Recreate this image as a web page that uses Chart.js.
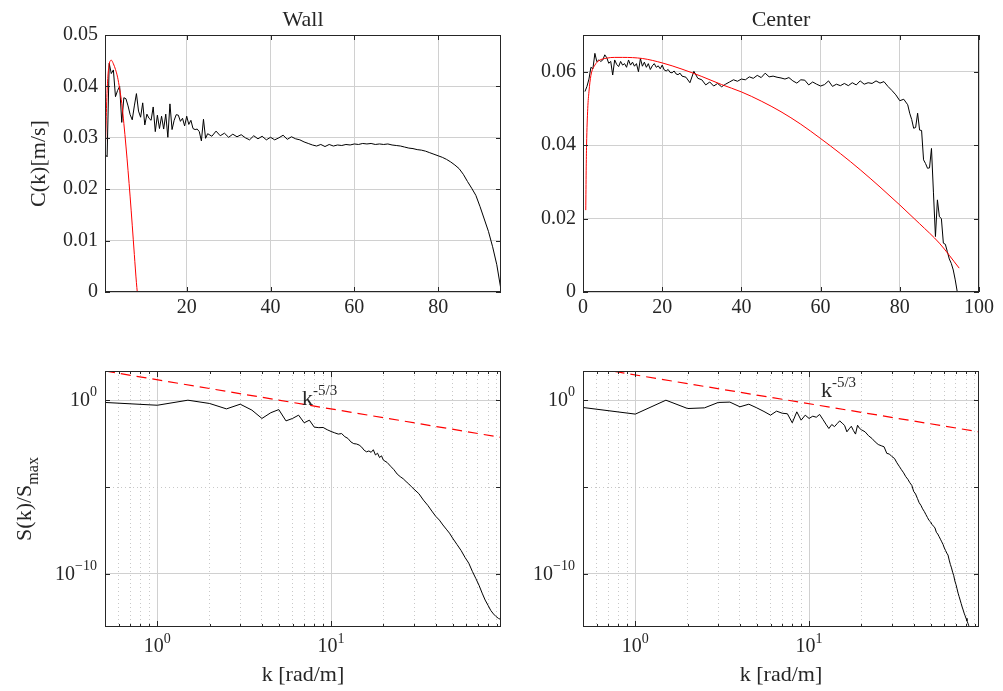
<!DOCTYPE html>
<html>
<head>
<meta charset="utf-8">
<script src="https://cdn.jsdelivr.net/npm/chart.js@4.4.1/dist/chart.umd.min.js"></script>
<style>
  body { margin: 0; background: #fff; }
  #wrap { position: relative; width: 1003px; height: 691px; }
  canvas { position: absolute; }
</style>
</head>
<body>
<div id="wrap">
  <canvas id="wallTop" width="540" height="340" style="left:0;top:0"></canvas>
  <canvas id="centerTop" width="523" height="340" style="left:480px;top:0"></canvas>
  <canvas id="wallSpec" width="540" height="346" style="left:0;top:345px"></canvas>
  <canvas id="centerSpec" width="523" height="346" style="left:480px;top:345px"></canvas>
</div>
<script>
// ---- top row: C(k) [m/s] against k ----
const kWallTop = [0.5, 1, 1.5, 2, 2.5, 3, 3.5, 4, 4.5, 5, 5.5, 6, 6.5, 7, 7.5, 8, 8.5, 9, 9.5, 10,
  10.5, 11, 11.5, 12, 12.5, 13, 13.5, 14, 14.5, 15, 15.5, 16, 16.5, 17, 17.5, 18, 18.5, 19, 19.5, 20,
  20.5, 21, 21.5, 22, 22.5, 23, 23.5, 24, 24.5, 25,
  26, 27, 28, 29, 30, 31, 32, 33, 34, 35, 36, 37, 38, 39, 40, 41, 42, 43, 44, 45,
  46, 47, 48, 49, 50, 51, 52, 53, 54, 55, 56, 57, 58, 59, 60, 61, 62, 63, 64, 65,
  66, 67, 68, 69, 70, 71, 72, 73, 74, 75, 76, 77, 78, 79, 80, 81, 82, 83, 84, 85,
  86, 87, 88, 89, 90, 91, 92, 93, 94, 95];
const cWall = [0.0268, 0.0263, 0.0445, 0.0425, 0.0432, 0.0380, 0.0392, 0.0400, 0.0330, 0.0378,
  0.0376, 0.0362, 0.0345, 0.0335, 0.0362, 0.0386, 0.0352, 0.0340, 0.0368, 0.0325,
  0.0346, 0.0338, 0.0334, 0.0360, 0.0312, 0.0344, 0.0318, 0.0342, 0.0317, 0.0346,
  0.0301, 0.0366, 0.0316, 0.0334, 0.0345, 0.0344, 0.0332, 0.0338, 0.0323, 0.0342,
  0.0326, 0.0334, 0.0318, 0.0316, 0.0317, 0.0312, 0.0294, 0.0336, 0.0299, 0.0308,
  0.0303, 0.0313, 0.0304, 0.0309, 0.0301, 0.0307, 0.0302, 0.0306, 0.0300, 0.0296,
  0.0304, 0.0298, 0.0303, 0.0296, 0.0301, 0.0296, 0.0300, 0.0305, 0.0297, 0.0302,
  0.0298, 0.0296, 0.0292, 0.0289, 0.0286, 0.0284, 0.0287, 0.0283, 0.0287, 0.0284,
  0.0286, 0.0285, 0.0287, 0.0286, 0.0288, 0.0287, 0.0289, 0.0288, 0.0289, 0.0287,
  0.0288, 0.0287, 0.0288, 0.0286, 0.0285, 0.0284, 0.0282, 0.0280, 0.0279, 0.0277,
  0.0276, 0.0274, 0.0271, 0.0268, 0.0265, 0.0262, 0.0258, 0.0253, 0.0247, 0.0240,
  0.0229, 0.0215, 0.0202, 0.0188, 0.0166, 0.0142, 0.0118, 0.0088, 0.0053, 0.0004];
const kWallFit = [0.5, 0.7, 0.9, 1.2, 1.5, 2, 2.5, 3, 3.5, 4, 4.5, 5, 5.5, 6, 6.5, 7, 7.5, 8, 8.2];
const cWallFit = [0.026, 0.031, 0.037, 0.042, 0.0443, 0.0451, 0.0444, 0.0433, 0.0418, 0.0395,
  0.0367, 0.0328, 0.0284, 0.0236, 0.0185, 0.0130, 0.0073, 0.0018, 0];

const kCenterTop = [0.5, 1, 1.5, 2, 2.5, 3, 3.5, 4, 4.5, 5, 5.5, 6, 6.5, 7, 7.5, 8, 8.5, 9, 9.5, 10,
  10.5, 11, 11.5, 12, 12.5, 13, 13.5, 14, 14.5, 15, 15.5, 16, 16.5, 17, 17.5, 18, 18.5, 19, 19.5, 20,
  20.5, 21, 21.5, 22, 22.5, 23, 23.5, 24, 24.5, 25,
  26, 27, 28, 29, 30, 31, 32, 33, 34, 35, 36, 37, 38, 39, 40, 41, 42, 43, 44, 45,
  46, 47, 48, 49, 50, 51, 52, 53, 54, 55, 56, 57, 58, 59, 60, 61, 62, 63, 64, 65,
  66, 67, 68, 69, 70, 71, 72, 73, 74, 75, 76, 77, 78, 79, 80, 81, 82,
  82.5, 83, 83.5, 84, 84.5, 85, 85.5, 86, 86.5, 87, 87.5, 88, 88.5, 89, 89.5, 90,
  90.5, 91, 91.5, 92, 92.5, 93, 93.5, 94, 94.5];
const cCenter = [0.0546, 0.0560, 0.0580, 0.0612, 0.0608, 0.0650, 0.0627, 0.0632, 0.0628, 0.0632,
  0.0646, 0.0638, 0.0623, 0.0628, 0.0591, 0.0632, 0.0620, 0.0614, 0.0628, 0.0618,
  0.0622, 0.0612, 0.0632, 0.0618, 0.0626, 0.0615, 0.0622, 0.0600, 0.0636, 0.0615,
  0.0626, 0.0612, 0.0622, 0.0606, 0.0616, 0.0622, 0.0612, 0.0616, 0.0608, 0.0618,
  0.0605, 0.0602, 0.0606, 0.0598, 0.0597, 0.0602, 0.0594, 0.0592, 0.0596, 0.0588,
  0.0585, 0.0570, 0.0601, 0.0582, 0.0578, 0.0564, 0.0572, 0.0561, 0.0568, 0.0559,
  0.0566, 0.0572, 0.0578, 0.0574, 0.0580, 0.0578, 0.0586, 0.0582, 0.0590, 0.0584,
  0.0596, 0.0586, 0.0588, 0.0585, 0.0583, 0.0580, 0.0584, 0.0575, 0.0569, 0.0578,
  0.0577, 0.0564, 0.0572, 0.0566, 0.0561, 0.0565, 0.0575, 0.0560, 0.0566, 0.0562,
  0.0568, 0.0562, 0.0570, 0.0564, 0.0575, 0.0566, 0.0570, 0.0568, 0.0575, 0.0569,
  0.0573, 0.0560, 0.0549, 0.0537, 0.0521, 0.0525, 0.0510,
  0.0487, 0.0470, 0.0446, 0.0448, 0.0487, 0.0441, 0.0440, 0.0360, 0.0350, 0.0337,
  0.0338, 0.0391, 0.0270, 0.0151, 0.0251, 0.0205, 0.0200, 0.0133, 0.0130, 0.0110,
  0.0090, 0.0078, 0.0060, 0.0033, 0.0001];
const kCenterFit = [0.7, 0.8, 0.9, 1.2, 1.5, 2, 3, 4, 6, 8, 10, 15, 20, 25, 30, 35, 40, 45, 50,
  55, 60, 65, 70, 75, 80, 85, 90, 95];
const cCenterFit = [0.0223, 0.033, 0.040, 0.050, 0.0545, 0.059, 0.0618, 0.063, 0.0637, 0.0639,
  0.0639, 0.0636, 0.0624, 0.0607, 0.0587, 0.0565, 0.0545, 0.0520, 0.0491, 0.0457,
  0.0418, 0.0377, 0.0333, 0.0286, 0.0237, 0.0186, 0.0133, 0.0065];

const wallXTicks = [20, 40, 60, 80];
const wallYTicks = [0, 0.01, 0.02, 0.03, 0.04, 0.05];
const centerXTicks = [0, 20, 40, 60, 80, 100];
const centerYTicks = [0, 0.02, 0.04, 0.06];

// ---- bottom row: S(k)/Smax, stored as powers of ten ----
const kWallSpec = [0.5, 1, 1.5, 2, 2.5, 3, 3.5, 4, 4.5, 5, 5.5, 6, 6.5, 7, 7.5, 8, 8.5, 9, 9.5, 10,
  10.5, 11, 11.5, 12, 12.5, 13, 13.5, 14, 14.5, 15, 15.5, 16, 16.5, 17, 17.5, 18, 18.5, 19, 19.5, 20,
  21, 22, 23, 24, 25, 26, 27, 28, 29, 30,
  32, 34, 36, 38, 40, 42, 44, 46, 48, 50,
  53, 56, 59, 62, 65, 68, 71, 74, 77, 80, 83, 86, 89, 92, 95];
const eWallSpec = [-0.13, -0.29, 0.00, -0.19, -0.50, -0.23, -0.57, -1.05, -0.72, -0.54,
  -1.19, -1.05, -0.86, -1.30, -1.15, -1.55, -1.58, -1.57, -1.70, -1.80,
  -1.88, -1.95, -1.92, -2.10, -2.20, -2.40, -2.50, -2.52, -2.58, -2.70,
  -2.88, -2.97, -2.92, -3.00, -2.85, -3.15, -3.05, -3.30, -3.20, -3.45,
  -3.58, -3.80, -4.00, -4.25, -4.40, -4.52, -4.68, -4.82, -4.98, -5.12,
  -5.38, -5.75, -6.05, -6.38, -6.68, -6.90, -7.18, -7.42, -7.65, -7.93,
  -8.30, -8.65, -9.05, -9.38, -9.85, -10.25, -10.65, -11.10, -11.50, -11.80,
  -12.10, -12.30, -12.45, -12.56, -12.62];

const kCenterSpec = [0.5, 1, 1.5, 2, 2.5, 3, 3.5, 4, 4.5, 5, 5.5, 6, 6.5, 7, 7.5, 8, 8.5, 9, 9.5, 10,
  10.5, 11, 11.5, 12, 12.5, 13, 13.5, 14, 14.5, 15, 15.5, 16, 16.5, 17, 17.5, 18, 18.5, 19, 19.5, 20,
  21, 22, 23, 24, 25, 26, 27, 28, 29, 30, 31, 32, 33, 34, 35, 36, 37, 38, 39, 40,
  41, 42, 43, 44, 45, 46, 47, 48, 49, 50, 51, 52, 53, 54, 55, 56, 57, 58, 59, 60,
  61, 62, 63, 64, 65, 66, 67, 68, 69, 70, 71, 72, 73, 74, 75, 76, 77, 78, 79, 80,
  81, 82, 83, 84, 85, 90, 95];
const eCenterSpec = [-0.42, -0.80, 0.00, -0.48, -0.44, -0.13, -0.11, -0.38, -0.23, -0.44,
  -0.65, -0.86, -0.63, -0.75, -0.78, -1.30, -0.67, -1.15, -0.86, -1.05,
  -0.92, -0.98, -0.82, -1.10, -1.38, -1.63, -1.40, -1.52, -1.35, -1.19,
  -1.32, -1.45, -1.82, -1.65, -1.50, -1.75, -1.95, -1.44, -1.62, -1.70,
  -1.82, -2.05, -2.20, -2.40, -2.55, -2.62, -2.68, -3.06, -3.10, -3.25,
  -3.35, -3.60, -3.80, -4.00, -4.18, -4.40, -4.55, -4.75, -4.90, -5.25,
  -5.40, -5.65, -5.90, -6.05, -6.25, -6.40, -6.58, -6.75, -6.92, -7.00,
  -7.15, -7.25, -7.35, -7.60, -7.70, -7.85, -8.00, -8.15, -8.30, -8.50,
  -8.65, -8.80, -8.91, -9.20, -9.45, -9.65, -9.90, -10.10, -10.40, -10.60,
  -10.85, -11.10, -11.30, -11.50, -11.70, -11.90, -12.07, -12.25, -12.40, -12.55,
  -12.70, -12.83, -12.98, -13.10, -13.20, -13.70, -14.20];

// k^-5/3 reference lines (end points)
const kSlope = [0.5, 95];
const eWallSlope = [1.68, -2.14];
const eCenterSlope = [1.95, -1.82];

const kLogTicks = [0.6, 0.7, 0.8, 0.9, 1, 2, 3, 4, 5, 6, 7, 8, 9, 10, 20, 30, 40, 50, 60, 70, 80, 90];
const kMajor = [1, 10];
const kMajorExp = ['0', '1'];
const sLogTicks = [1e-10, 1e-5, 1];
const sMajor = [1e-10, 1];
const sMajorExp = ['\u221210', '0'];

const SERIF = '"Liberation Serif", "Times New Roman", Times, serif';
const INK = '#262626';
const GRID = '#d0d0d0';
const TICK_PX = 20;
const LABEL_PX = 22;

const pts = (ks, vs) => ks.map((k, i) => ({x: k, y: vs[i]}));
const pow10 = es => es.map(e => Math.pow(10, e));
const isIn = (list, v) => list.some(m => Math.abs(v - m) <= Math.abs(m) * 1e-6);

function supText(ctx, base, sup, x, y, align, baseSize, supSize, rise) {
  ctx.font = baseSize + 'px ' + SERIF;
  const wb = ctx.measureText(base).width;
  ctx.font = supSize + 'px ' + SERIF;
  const ws = ctx.measureText(sup).width;
  let left = x;
  if (align === 'center') left = x - (wb + ws) / 2;
  else if (align === 'right') left = x - wb - ws;
  ctx.textAlign = 'left';
  ctx.textBaseline = 'alphabetic';
  ctx.font = baseSize + 'px ' + SERIF;
  ctx.fillText(base, left, y);
  ctx.font = supSize + 'px ' + SERIF;
  ctx.fillText(sup, left + wb, y - rise);
}

// frame, inward ticks, titles and power-of-ten labels
const panelDeco = {
  id: 'panelDeco',
  afterDraw(chart, args, o) {
    const {ctx, chartArea: a} = chart;
    const x = chart.scales.x, y = chart.scales.y;
    ctx.save();
    ctx.strokeStyle = INK;
    ctx.fillStyle = INK;
    ctx.lineWidth = 1;
    ctx.beginPath();
    x.ticks.forEach(t => {
      const p = Math.round(x.getPixelForValue(t.value)) + 0.5;
      const len = o.xMajor ? (isIn(o.xMajor, t.value) ? 6 : 3) : 5;
      ctx.moveTo(p, a.bottom); ctx.lineTo(p, a.bottom - len);
      ctx.moveTo(p, a.top); ctx.lineTo(p, a.top + len);
    });
    y.ticks.forEach(t => {
      const p = Math.round(y.getPixelForValue(t.value)) + 0.5;
      ctx.moveTo(a.left, p); ctx.lineTo(a.left + 5, p);
      ctx.moveTo(a.right, p); ctx.lineTo(a.right - 5, p);
    });
    ctx.stroke();
    ctx.strokeRect(a.left + 0.5, a.top + 0.5, a.right - a.left - 1, a.bottom - a.top - 1);

    if (o.title) {
      ctx.font = LABEL_PX + 'px ' + SERIF;
      ctx.textAlign = 'center';
      ctx.textBaseline = 'alphabetic';
      ctx.fillText(o.title, (a.left + a.right) / 2, a.top - 9);
    }
    if (o.yTitle) {
      ctx.save();
      ctx.translate(o.yTitleX, (a.top + a.bottom) / 2);
      ctx.rotate(-Math.PI / 2);
      ctx.font = LABEL_PX + 'px ' + SERIF;
      const w1 = ctx.measureText(o.yTitle).width;
      let w2 = 0;
      if (o.yTitleSub) { ctx.font = '16px ' + SERIF; w2 = ctx.measureText(o.yTitleSub).width; }
      supText(ctx, o.yTitle, o.yTitleSub || '', -(w1 + w2) / 2, 0, 'left', LABEL_PX, 16, -7);
      ctx.restore();
    }
    if (o.xTitle) {
      ctx.font = LABEL_PX + 'px ' + SERIF;
      ctx.textAlign = 'center';
      ctx.textBaseline = 'alphabetic';
      ctx.fillText(o.xTitle, (a.left + a.right) / 2, a.bottom + 54);
    }
    if (o.xLabels) {
      o.xLabels.forEach((v, i) => supText(ctx, '10', o.xExp[i], x.getPixelForValue(v), a.bottom + 25, 'center', TICK_PX, 14, 9));
    }
    if (o.yLabels) {
      o.yLabels.forEach((v, i) => supText(ctx, '10', o.yExp[i], a.left - 8, y.getPixelForValue(v) + 6, 'right', TICK_PX, 14, 10));
    }
    if (o.note) {
      supText(ctx, 'k', '-5/3', x.getPixelForValue(o.note.k), y.getPixelForValue(o.note.s), 'left', LABEL_PX, 15, 10);
    }
    ctx.restore();
  }
};

const setTicks = list => s => { s.ticks = list.map(v => ({value: v})); };
const tickFont = {family: SERIF, size: TICK_PX};

function makePanel(id, p) {
  const isLog = p.log;
  const gridX = isLog
    ? {drawTicks: false, lineWidth: 1, color: c => (c.tick && isIn(kMajor, c.tick.value)) ? GRID : '#c8c8c8'}
    : {drawTicks: false, lineWidth: 1, color: GRID};
  const gridY = isLog
    ? {drawTicks: false, lineWidth: 1, color: c => (c.tick && isIn(sMajor, c.tick.value)) ? GRID : '#c8c8c8'}
    : {drawTicks: false, lineWidth: 1, color: GRID};
  return new Chart(document.getElementById(id), {
    type: 'line',
    data: {datasets: p.datasets},
    options: {
      responsive: false,
      animation: false,
      devicePixelRatio: 1,
      layout: {padding: {top: p.padTop, right: p.padRight, left: 0, bottom: 0}},
      plugins: {legend: {display: false}, tooltip: {enabled: false}, panelDeco: p.deco},
      scales: {
        x: {
          type: isLog ? 'logarithmic' : 'linear',
          min: p.xMin, max: p.xMax,
          afterBuildTicks: setTicks(p.xTicks),
          afterFit: s => { s.height = p.xH; },
          grid: gridX,
          border: {display: false, dash: c => (isLog && c.tick && !isIn(kMajor, c.tick.value)) ? [1, 3] : []},
          ticks: {display: !isLog, font: tickFont, color: INK, padding: 4, maxRotation: 0, callback: v => String(v)}
        },
        y: {
          type: isLog ? 'logarithmic' : 'linear',
          min: p.yMin, max: p.yMax,
          afterBuildTicks: setTicks(p.yTicks),
          afterFit: s => { s.width = p.yW; },
          grid: gridY,
          border: {display: false, dash: c => (isLog && c.tick && !isIn(sMajor, c.tick.value)) ? [1, 3] : []},
          ticks: {display: !isLog, font: tickFont, color: INK, padding: 7, callback: v => v === 0 ? '0' : v.toFixed(2)}
        }
      }
    },
    plugins: [panelDeco]
  });
}

const blackLine = data => ({data, borderColor: '#000', borderWidth: 1, pointRadius: 0, tension: 0, order: 1});
const redFit = data => ({data, borderColor: '#ff0000', borderWidth: 1, pointRadius: 0, cubicInterpolationMode: 'monotone', order: 0});
const redSlope = data => ({data, borderColor: '#ff0000', borderWidth: 1.2, borderDash: [10, 6], pointRadius: 0, tension: 0, order: 0});

makePanel('wallTop', {
  datasets: [blackLine(pts(kWallTop, cWall)), redFit(pts(kWallFit, cWallFit))],
  padTop: 35, padRight: 39, yW: 105, xH: 48,
  xMin: 0.5, xMax: 95, xTicks: wallXTicks,
  yMin: 0, yMax: 0.05, yTicks: wallYTicks,
  deco: {title: 'Wall', yTitle: 'C(k)[m/s]', yTitleX: 45}
});

makePanel('centerTop', {
  datasets: [blackLine(pts(kCenterTop, cCenter)), redFit(pts(kCenterFit, cCenterFit))],
  padTop: 35, padRight: 24, yW: 103, xH: 48,
  xMin: 0, xMax: 100, xTicks: centerXTicks,
  yMin: 0, yMax: 0.07, yTicks: centerYTicks,
  deco: {title: 'Center'}
});

makePanel('wallSpec', {
  log: true,
  datasets: [blackLine(pts(kWallSpec, pow10(eWallSpec))), redSlope(pts(kSlope, pow10(eWallSlope)))],
  padTop: 26, padRight: 39, yW: 105, xH: 64,
  xMin: 0.5, xMax: 95, xTicks: kLogTicks,
  yMin: Math.pow(10, -13.05), yMax: Math.pow(10, 1.68), yTicks: sLogTicks,
  deco: {yTitle: 'S(k)/S', yTitleSub: 'max', yTitleX: 31, xTitle: 'k [rad/m]', xMajor: kMajor,
    xLabels: kMajor, xExp: kMajorExp, yLabels: sMajor, yExp: sMajorExp,
    note: {k: 6.8, s: Math.pow(10, -0.25)}}
});

makePanel('centerSpec', {
  log: true,
  datasets: [blackLine(pts(kCenterSpec, pow10(eCenterSpec))), redSlope(pts(kSlope, pow10(eCenterSlope)))],
  padTop: 26, padRight: 24, yW: 103, xH: 64,
  xMin: 0.5, xMax: 95, xTicks: kLogTicks,
  yMin: Math.pow(10, -13.05), yMax: Math.pow(10, 1.68), yTicks: sLogTicks,
  deco: {xTitle: 'k [rad/m]', xMajor: kMajor,
    xLabels: kMajor, xExp: kMajorExp, yLabels: sMajor, yExp: sMajorExp,
    note: {k: 11.7, s: Math.pow(10, 0.19)}}
});
</script>
</body>
</html>
